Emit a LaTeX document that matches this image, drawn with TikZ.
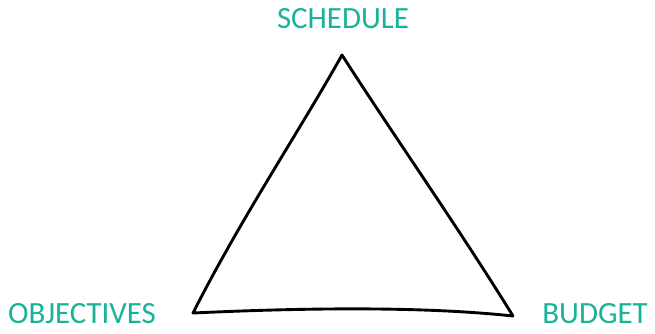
\documentclass[tikz,border=0pt]{standalone}
\usepackage{fontspec}
\setmainfont{Carlito}
\definecolor{teal1}{RGB}{26,178,152}
\tikzset{
  label1/.style={text=teal1, font=\fontsize{31}{31}\selectfont, inner sep=0pt, anchor=center},
  edge1/.style={draw=black, line width=2.9pt, line join=round, line cap=round}
}
\begin{document}
\begin{tikzpicture}[x=1bp,y=-1bp]
\useasboundingbox (0,0) rectangle (655,333);
\node[label1] (sched) at (343,19) {SCHEDULE};
\node[label1] (obj) at (82,314) {OBJECTIVES};
\node[label1] (bud) at (595,314) {BUDGET};
\coordinate (top) at (342,55);
\coordinate (bl) at (193,313);
\coordinate (br) at (513,316);
\draw[edge1] (top) .. controls (300,130) and (240,220) .. (bl)
  .. controls (300,308) and (420,306) .. (br)
  .. controls (460,230) and (390,130) .. cycle;
\end{tikzpicture}
\end{document}
